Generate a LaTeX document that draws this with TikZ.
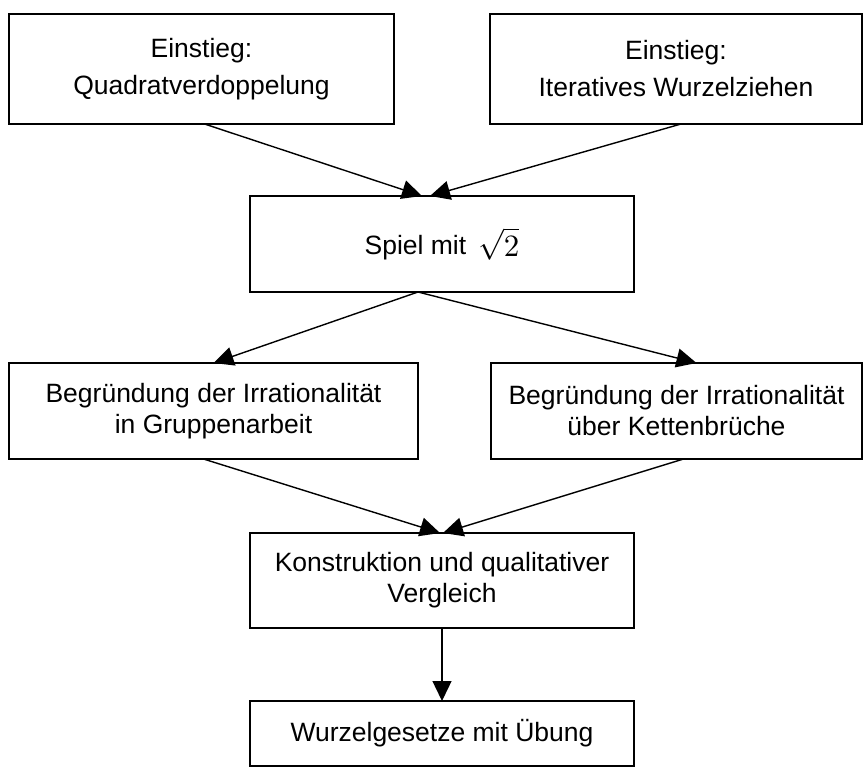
\documentclass[tikz,border=0pt]{standalone}
\usepackage{fontspec}
\setmainfont{Liberation Sans}
\usepackage{graphicx}
\usetikzlibrary{arrows.meta,positioning}

\begin{document}
\begin{tikzpicture}[x=1pt, y=-1pt,
  box/.style={rectangle, draw=black, line width=1.7pt, fill=white,
    inner sep=0pt, outer sep=0pt, align=center, font=\fontsize{26.5}{31}\selectfont},
  entry/.style={box, font=\fontsize{26.5}{37}\selectfont},
  arrow/.style={-{Triangle[length=20pt,width=19pt]}, line width=1.4pt, black},
]
\useasboundingbox (0,0) rectangle (863,767);

% Einstieg
\node[entry, minimum width=385pt, minimum height=110pt] (quad) at (201.5,69) {Einstieg:\\Quadratverdoppelung};
\node[entry, minimum width=372pt, minimum height=110pt] (iter) at (676,69) {Einstieg:\\Iteratives Wurzelziehen};

% Spiel
\node[box, minimum width=384pt, minimum height=96pt] (spiel) at (442,244) {Spiel mit \,\raisebox{-2pt}{\scalebox{3.1}{\normalsize$\sqrt{2}$}}};

% Begruendung
\node[box, minimum width=409pt, minimum height=96pt] (grup) at (213.5,411) {Begründung der Irrationalität\\in Gruppenarbeit};
\node[box, minimum width=371pt, minimum height=96pt] (kett) at (676.5,411) {Begründung der Irrationalität\\über Kettenbrüche};

% Konstruktion und Gesetze
\node[box, minimum width=384pt, minimum height=95pt] (konst) at (442,580.5) {Konstruktion und qualitativer\\Vergleich};
\node[box, minimum width=384pt, minimum height=65pt] (gesetz) at (442,733.5) {Wurzelgesetze mit Übung};

\draw[arrow] ([xshift=3pt]quad.south) -- ([xshift=-20pt]spiel.north);
\draw[arrow] ([xshift=5pt]iter.south) -- ([xshift=-12pt]spiel.north);
\draw[arrow] ([xshift=-24pt]spiel.south) -- (grup.north);
\draw[arrow] ([xshift=-24pt]spiel.south) -- ([xshift=20pt]kett.north);
\draw[arrow] ([xshift=-10pt]grup.south) -- ([xshift=-2pt]konst.north);
\draw[arrow] ([xshift=7pt]kett.south) -- ([xshift=1pt]konst.north);
\draw[arrow] (konst) -- (gesetz);

\end{tikzpicture}
\end{document}
